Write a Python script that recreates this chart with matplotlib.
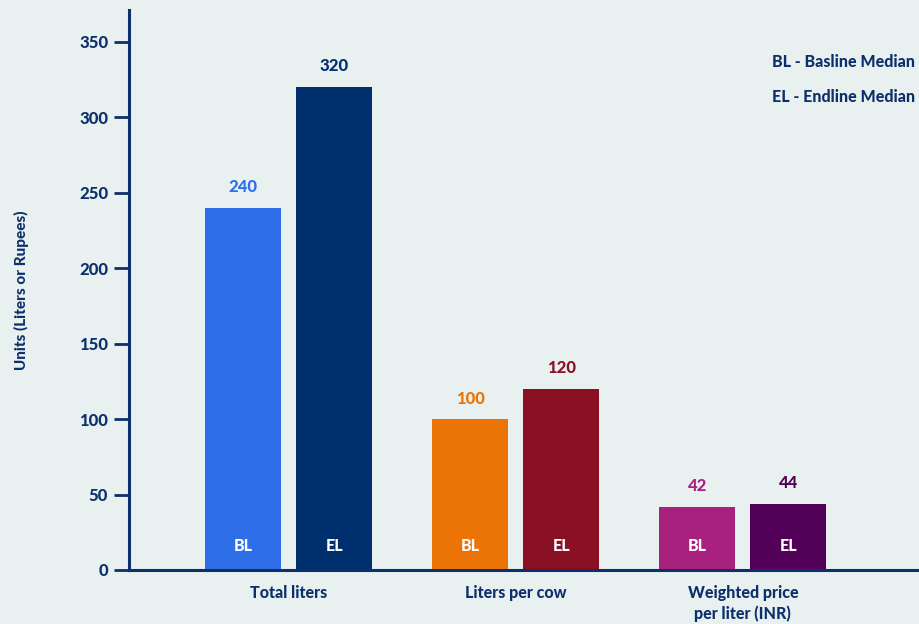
import matplotlib.pyplot as plt

# Median milk output and price, baseline vs endline
categories = ["Total liters", "Liters per cow", "Weighted price\nper liter (INR)"]
baseline = [240, 100, 42]
endline = [320, 120, 44]
bl_colors = ["#2e6fe9", "#ec7405", "#a9217e"]
el_colors = ["#002f6e", "#8a1024", "#520058"]
navy = "#0d2f6b"
bg = "#e8f1f0"

plt.rcParams['font.family'] = ['Lato', 'DejaVu Sans']
W = "black"

fig = plt.figure(figsize=(9.2, 6.24), dpi=100, facecolor=bg)
ax = fig.add_axes([129 / 920, 1 - 570 / 624, 1 - 129 / 920, (570 - 10) / 624])
ax.set_facecolor(bg)

width = 0.335
offset = 0.2
for i, cat in enumerate(categories):
    for val, dx, col, tag in [(baseline[i], -offset, bl_colors[i], "BL"),
                              (endline[i], offset, el_colors[i], "EL")]:
        ax.bar(i + dx, val, width=width, color=col)
        ax.annotate(str(val), (i + dx, val), xytext=(0, 9), textcoords="offset points",
                    ha="center", va="bottom", color=col, fontsize=12, fontweight=W)
        ax.annotate(tag, (i + dx, 0), xytext=(0, 17), textcoords="offset points",
                    ha="center", va="center", color="white", fontsize=11.5, fontweight=W)

ax.set_xlim(-0.703, 2.78)
ax.set_ylim(0, 371)
ax.set_yticks(range(0, 351, 50))
ax.set_xticks(range(len(categories)))
ax.set_xticklabels(categories, fontsize=11.5, fontweight=W, color=navy, linespacing=1.3)
ax.tick_params(axis="x", length=0, pad=11)
ax.tick_params(axis="y", length=11, width=2, color=navy, labelcolor=navy, labelsize=12, pad=4)
for lbl in ax.get_yticklabels():
    lbl.set_fontweight(W)

for side in ["top", "right"]:
    ax.spines[side].set_visible(False)
for side in ["left", "bottom"]:
    ax.spines[side].set_color(navy)
    ax.spines[side].set_linewidth(2.2)

ax.set_ylabel("Units (Liters or Rupees)", fontsize=11, fontweight=W, color=navy, labelpad=36)

fig.text(772 / 920, 1 - 62 / 624, "BL - Basline Median", fontsize=11.5, fontweight=W,
         color=navy, va="center", ha="left")
fig.text(772 / 920, 1 - 97 / 624, "EL - Endline Median", fontsize=11.5, fontweight=W,
         color=navy, va="center", ha="left")

fig.savefig("out.png", dpi=100, facecolor=bg)
